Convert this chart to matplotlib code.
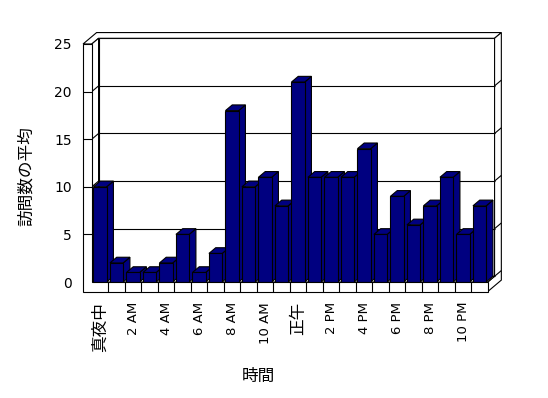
import matplotlib
matplotlib.use('Agg')
import matplotlib.pyplot as plt
from matplotlib.patches import Polygon

plt.rcParams['font.family'] = ['DejaVu Sans', 'Noto Sans CJK JP']

# average visits per hour of day
hours = list(range(24))
visits = [10, 2, 1, 1, 2, 5, 1, 3, 18, 10, 11, 8, 21, 11, 11, 11, 14, 5, 9, 6, 8, 11, 5, 8]
hour_labels = ['真夜中', '2 AM', '4 AM', '6 AM', '8 AM', '10 AM',
               '正午', '2 PM', '4 PM', '6 PM', '8 PM', '10 PM']
y_ticks = [0, 5, 10, 15, 20, 25]

# fake 3D look (oblique projection)
dx, dy = 0.41, 0.6      # one depth step, in data units
wall = 0.53             # left wall thickness
floor_t = 1.0           # floor thickness
bar_w = 0.8
navy = '#000080'
lw = 0.8

fig = plt.figure(figsize=(5.48, 3.98), dpi=100)
ax = fig.add_axes([0.14599, 0.25628, 0.78467, 0.67337])
ax.set_xlim(-0.7152, 25.345)
ax.set_ylim(-1.4706, 26.68)

n = len(hours)
top = y_ticks[-1]


def face(pts, fc='white', z=1.0):
    ax.add_patch(Polygon(pts, closed=True, fc=fc, ec='black', lw=lw,
                         zorder=z, clip_on=False, joinstyle='miter'))


def line(xs, ys, z=1.5):
    ax.plot(xs, ys, color='black', lw=lw, zorder=z, clip_on=False,
            solid_capstyle='butt')


# back wall, its top/right edges and the floor's right side
face([(dx, dy), (n + dx, dy), (n + dx, top + dy), (dx, top + dy)])
face([(-wall, top), (0, top), (dx, top + dy), (n + dx, top + dy),
      (n + 2 * dx, top + 2 * dy), (-wall + 2 * dx, top + 2 * dy)])
face([(n, 0), (n + dx, dy), (n + dx, top + dy), (n + 2 * dx, top + 2 * dy),
      (n + 2 * dx, 2 * dy - floor_t), (n, -floor_t)])

# floor top and left wall inner side
face([(0, 0), (n, 0), (n + dx, dy), (dx, dy)])
face([(0, 0), (0, top), (dx, top + dy), (dx, dy)])

# gridlines
for v in y_ticks[:-1]:
    line([dx, n + dx], [v + dy, v + dy])
    line([n + dx, n + 2 * dx], [v + dy, v + 2 * dy])
    line([0, dx], [v, v + dy])

# bars
for i, v in enumerate(visits):
    x0 = hours[i] + (1 - bar_w) / 2
    x1 = x0 + bar_w
    z = 3 + i * 0.01
    face([(x1, 0), (x1 + dx, dy), (x1 + dx, v + dy), (x1, v)], navy, z)
    face([(x0, v), (x1, v), (x1 + dx, v + dy), (x0 + dx, v + dy)], navy, z)
    face([(x0, 0), (x1, 0), (x1, v), (x0, v)], navy, z)

# front edge of left wall and floor
face([(-wall, -floor_t), (n, -floor_t), (n, 0), (0, 0), (0, top), (-wall, top)], z=5)
for k in range(1, n):
    line([k, k], [-floor_t, 0], z=5.1)
for v in y_ticks[1:-1]:
    line([-wall, 0], [v, v], z=5.1)

ax.set_xticks([h + 0.5 for h in hours[::2]])
ax.set_xticklabels(hour_labels, rotation=90, fontsize=9.5)
for lab in ax.get_xticklabels():
    if not lab.get_text().isascii():
        lab.set_fontsize(12)
ax.set_yticks(y_ticks)
ax.set_yticklabels([str(v) for v in y_ticks], fontsize=10)
ax.tick_params(axis='x', length=0, pad=4.3)
ax.tick_params(axis='y', length=0, pad=5.8)
for s in ax.spines.values():
    s.set_visible(False)

ax.set_ylabel('訪問数の平均', fontsize=12)
ax.yaxis.set_label_coords(-0.1047, 0.4478)
ax.set_xlabel('時間', fontsize=12)
ax.xaxis.set_label_coords(0.414, -0.265)

fig.savefig('out.png', dpi=100)
